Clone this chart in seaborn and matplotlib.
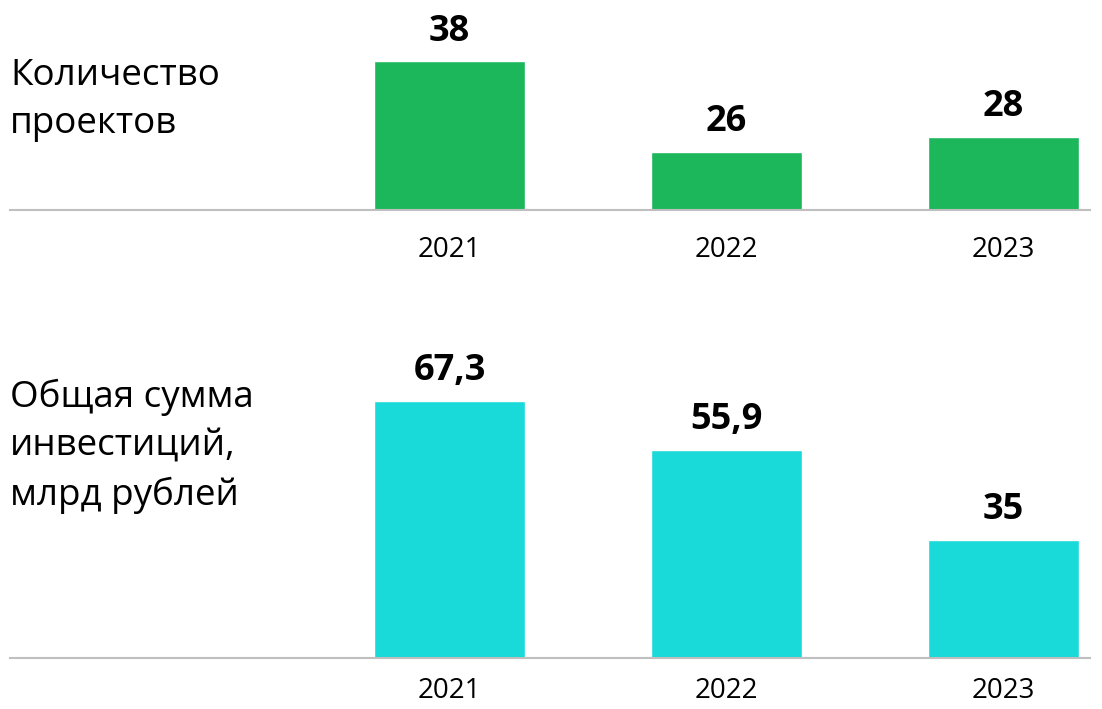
import pandas as pd
import matplotlib
matplotlib.use('Agg')
import matplotlib.pyplot as plt
import seaborn as sns

# данные с картинки
years = ['2021', '2022', '2023']
projects = [38, 26, 28]
investments = [67.3, 55.9, 35]
label_projects = 'Количество\nпроектов'
label_invest = 'Общая сумма\nинвестиций,\nмлрд рублей'

df = pd.DataFrame({'year': years, 'projects': projects, 'invest': investments})

sns.set_style('white')
plt.rcParams['font.family'] = ['Open Sans', 'DejaVu Sans']
plt.rcParams['text.color'] = 'black'
plt.rcParams['xtick.color'] = 'black'

W, H = 1102, 709
fig = plt.figure(figsize=(W / 100, H / 100), dpi=100)

def px_axes(x0, x1, ytop, ybot):
    # прямоугольник осей в пикселях (от верхнего левого угла)
    return fig.add_axes([x0 / W, 1 - ybot / H, (x1 - x0) / W, (ybot - ytop) / H])

ax1 = px_axes(10, 1090, 20, 210)
ax2 = px_axes(10, 1090, 330, 658)

green = '#1db75b'
cyan = '#19d9d9'

sns.barplot(data=df, x='year', y='projects', color=green, saturation=1,
            width=0.545, ax=ax1)
sns.barplot(data=df, x='year', y='invest', color=cyan, saturation=1,
            width=0.545, ax=ax2)


def fmt(v):
    s = f'{v:g}'
    return s.replace('.', ',')


for ax, col, ylim, pad in [(ax1, 'projects', (18.3, 43.5), 19),
                           (ax2, 'invest', (7.7, 83.7), 14)]:
    ax.set_xlim(-1.587, 2.312)
    ax.set_ylim(*ylim)
    ax.set_xlabel('')
    ax.set_ylabel('')
    ax.set_yticks([])
    for side in ['top', 'left', 'right']:
        ax.spines[side].set_visible(False)
    ax.spines['bottom'].set_color('#bfbfbf')
    ax.spines['bottom'].set_linewidth(1.5)
    ax.tick_params(axis='x', length=0, pad=pad, labelsize=20, labelcolor='black')
    for i, v in enumerate(df[col]):
        ax.annotate(fmt(v), xy=(i, v), xytext=(0, 15), textcoords='offset points',
                    ha='center', va='baseline', fontsize=26, fontweight='bold',
                    color='black')

fig.text(10 / W, 1 - 100 / H, label_projects, ha='left', va='center',
         fontsize=26.5, linespacing=1.45, color='black')
fig.text(10 / W, 1 - 446 / H, label_invest, ha='left', va='center',
         fontsize=26.5, linespacing=1.45, color='black')

fig.savefig('out.png', dpi=100)
